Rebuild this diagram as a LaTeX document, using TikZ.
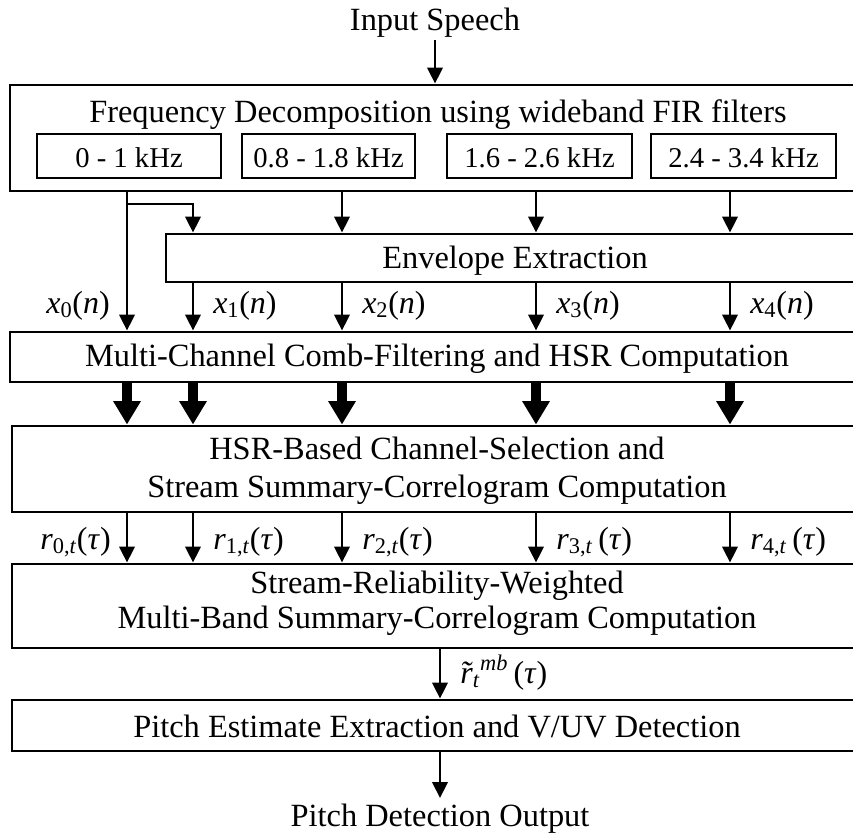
\documentclass[tikz,border=0pt]{standalone}
\usepackage{fontspec}
\setmainfont{Liberation Serif}
\usetikzlibrary{arrows.meta,fit}
\begin{document}
\begin{tikzpicture}[x=0.75pt,y=-0.75pt,
  box/.style={draw, line width=2.2pt, inner sep=0pt},
  subbox/.style={draw, line width=1.6pt, inner sep=0pt},
  txt/.style={anchor=base, inner sep=0pt, font=\fontsize{24.3}{29}\selectfont},
  stxt/.style={anchor=base, inner sep=0pt, font=\fontsize{21.5}{26}\selectfont},
  lbl/.style={inner sep=0pt, font=\fontsize{24}{28}\selectfont},
  arr/.style={line width=2.2pt, -{Triangle[width=11.5pt,length=12pt]}},
  fatarr/.style={line width=7.5pt, -{Triangle[width=19.5pt,length=17.5pt]}},
  ]
\useasboundingbox (0,0) rectangle (853,832);

% column coordinates
\coordinate (c0) at (127,0);
\coordinate (c1) at (193,0);
\coordinate (c2) at (342,0);
\coordinate (c3) at (536,0);
\coordinate (c4) at (730,0);
\coordinate (ci) at (435,40);
\coordinate (cm) at (440,0);
\coordinate (br) at (127,204);
\coordinate (oe) at (440,798);

% boxes
\node[box, fit={(10,85) (858,191)}] (fd) {};
\node[subbox, fit={(37,134) (221,178)}] (fa) {};
\node[subbox, fit={(242,134) (415,178)}] (fb) {};
\node[subbox, fit={(447,134) (632,178)}] (fc) {};
\node[subbox, fit={(651,134) (836,178)}] (fdd) {};
\node[box, fit={(166,234) (858,282)}] (env) {};
\node[box, fit={(10,332) (858,382)}] (mc) {};
\node[box, fit={(12,426) (858,512)}] (hsr) {};
\node[box, fit={(12,564) (858,648)}] (srw) {};
\node[box, fit={(12,700) (858,751)}] (pe) {};

% texts
\node[txt] (tin) at (435,30) {Input Speech};
\node[txt] (t1) at (438,122) {Frequency Decomposition using wideband FIR filters};
\node[stxt] (sa) at (129,167) {0 - 1 kHz};
\node[stxt] (sb) at (328.5,167) {0.8 - 1.8 kHz};
\node[stxt] (sc) at (539.5,167) {1.6 - 2.6 kHz};
\node[stxt] (sd) at (743.5,167) {2.4 - 3.4 kHz};
\node[txt] (tenv) at (515,268) {Envelope Extraction};
\node[txt] (tmc) at (437,366) {Multi-Channel Comb-Filtering and HSR Computation};
\node[txt] (th1) at (437,459) {HSR-Based Channel-Selection and};
\node[txt] (th2) at (437,497) {Stream Summary-Correlogram Computation};
\node[txt] (ts1) at (437,593) {Stream-Reliability-Weighted};
\node[txt] (ts2) at (437,628) {Multi-Band Summary-Correlogram Computation};
\node[txt] (tpe) at (437,737) {Pitch Estimate Extraction and V/UV Detection};
\node[txt] (tout) at (440,826) {Pitch Detection Output};

% connectors
\draw[arr] (ci) -- (ci |- fd.north);
\draw[arr] (fd.south -| c0) -- (mc.north -| c0);
\draw[arr] (br) -| (env.north -| c1);
\foreach \c in {c2,c3,c4}{
  \draw[arr] (fd.south -| \c) -- (env.north -| \c);
}
\foreach \c in {c1,c2,c3,c4}{
  \draw[arr] (env.south -| \c) -- (mc.north -| \c);
}
\foreach \c in {c0,c1,c2,c3,c4}{
  \draw[fatarr] (mc.south -| \c) -- (hsr.north -| \c);
  \draw[arr] (hsr.south -| \c) -- (srw.north -| \c);
}
\draw[arr] (srw.south -| cm) -- (pe.north -| cm);
\draw[arr] (pe.south -| cm) -- (oe);

% labels
\node[lbl, anchor=base east] (lx0) at (110,313) {\textit{x}\textsubscript{0}(\textit{n})};
\node[lbl, anchor=base west] (lx1) at (213,313) {\textit{x}\textsubscript{1}(\textit{n})};
\node[lbl, anchor=base west] (lx2) at (362,313) {\textit{x}\textsubscript{2}(\textit{n})};
\node[lbl, anchor=base west] (lx3) at (556,313) {\textit{x}\textsubscript{3}(\textit{n})};
\node[lbl, anchor=base west] (lx4) at (750,313) {\textit{x}\textsubscript{4}(\textit{n})};
\node[lbl, anchor=base east] (lr0) at (111,549) {\textit{r}\textsubscript{0,\textit{t}}(\textit{τ})};
\node[lbl, anchor=base west] (lr1) at (213,549) {\textit{r}\textsubscript{1,\textit{t}}(\textit{τ})};
\node[lbl, anchor=base west] (lr2) at (362,549) {\textit{r}\textsubscript{2,\textit{t}}(\textit{τ})};
\node[lbl, anchor=base west] (lr3) at (556,549) {\textit{r}\textsubscript{3,\textit{t}}\,(\textit{τ})};
\node[lbl, anchor=base west] (lr4) at (750,549) {\textit{r}\textsubscript{4,\textit{t}}\,(\textit{τ})};
\node[lbl, anchor=base west] (lrm) at (460,683) {\ooalign{\textit{r}\cr\hidewidth\textit{˜}\hidewidth\cr}\textsubscript{\textit{t}}\textsuperscript{\textit{mb}}\,(\textit{τ})};
\end{tikzpicture}
\end{document}
